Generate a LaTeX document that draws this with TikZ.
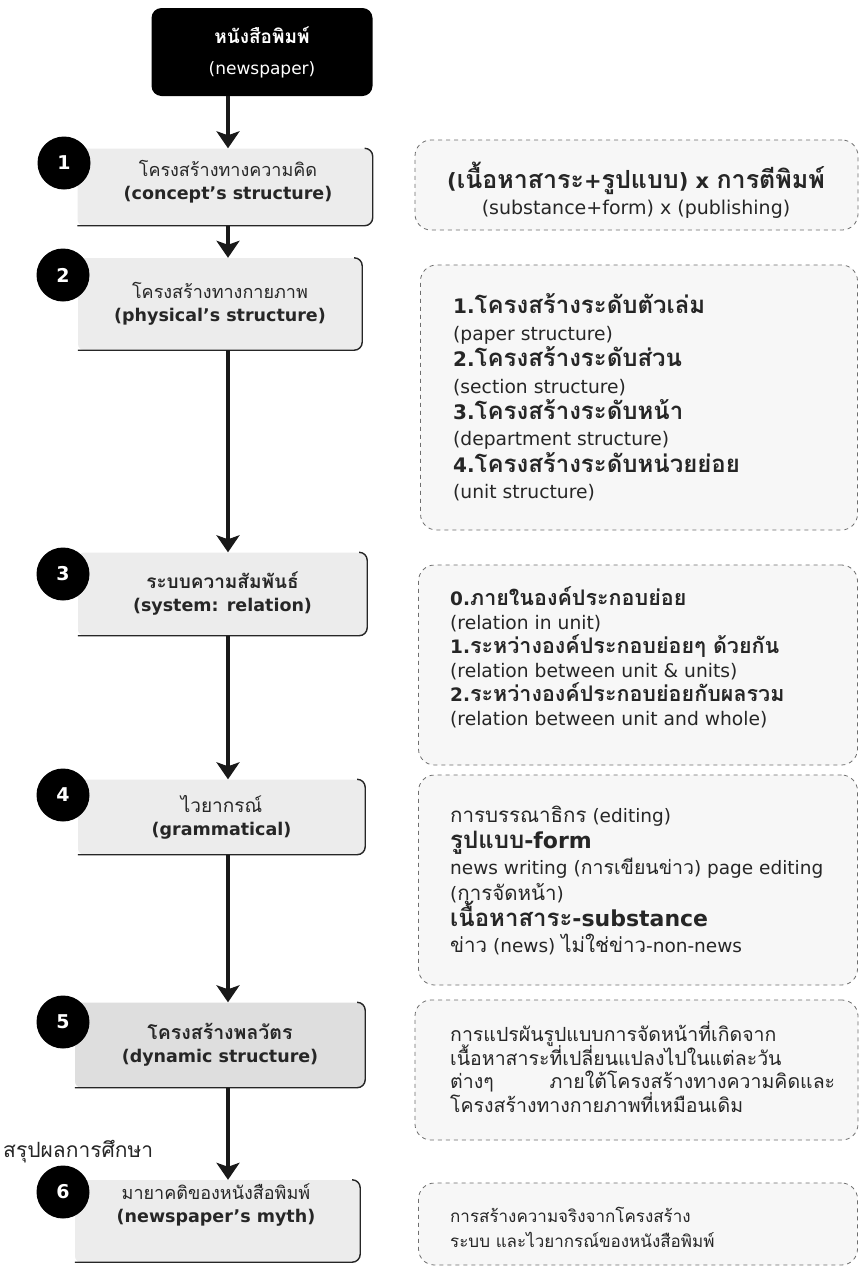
\documentclass[tikz,border=0pt]{standalone}
\usepackage{fontspec}
\setmainfont{DejaVu Sans}
\newfontfamily\thaifont[Script=Thai]{Loma}
\usetikzlibrary{arrows.meta}
\newcommand{\tf}[1]{{\thaifont #1}}
\newcommand{\fsz}[1]{\fontsize{#1}{\baselineskip}\selectfont}
\newcommand{\base}[2]{\fontsize{#1}{#2}\selectfont\lineskiplimit=-100pt\relax}
\definecolor{boxgray}{RGB}{236,236,236}
\definecolor{boxgrayd}{RGB}{222,222,222}
\definecolor{dashgray}{RGB}{110,110,110}
\tikzset{
  mbox/.style={fill=boxgray, rounded corners=6pt, inner sep=0pt, align=center, font=\base{17.5}{23}, text=black!85},
  bracket/.style={draw=black!85, line width=1.4pt, rounded corners=8pt},
  numc/.style={circle, fill=black, minimum size=53pt, inner sep=0pt, text=white, font=\bfseries\fontsize{19}{19}\selectfont},
  dbox/.style={draw=dashgray, dash pattern=on 4pt off 4pt, line width=0.8pt, rounded corners=16pt, fill=white!97!black, inner sep=0pt},
  dtext/.style={anchor=west, align=left, inner sep=0pt, text=black!85},
  arr/.style={line width=3.6pt, -{Stealth[length=17pt,width=23pt,inset=4pt]}, black!90},
}
\begin{document}
\begin{tikzpicture}[x=1pt,y=-1pt]
\useasboundingbox (0,0) rectangle (860,1267);
\fill[white] (0,0) rectangle (860,1267);
\coordinate (spine) at (228,0);

% top box
\node[fill=black, rounded corners=10pt, minimum width=221pt, minimum height=88pt, text=white, align=center, font=\base{17}{31}]
  (top) at (262,52) {\textbf{\tf{\fsz{19}หนังสือพิมพ์}}\\(newspaper)};

% main boxes
\node[mbox, minimum width=295pt, minimum height=77pt] (b1) at (225,187) {};
\node[mbox, fill=none, rounded corners=0pt] (b1t) at (228,182)
  {\tf{\fsz{18}โครงสร้างทางความคิด}\\\textbf{(concept’s structure)}};
\node[mbox, minimum width=284pt, minimum height=92pt] (b2) at (220,304)
  {\tf{\fsz{18}โครงสร้างทางกายภาพ}\\\textbf{(physical’s structure)}};
\node[mbox, minimum width=289pt, minimum height=83pt] (b3) at (222.5,594)
  {\textbf{\tf{\fsz{19}ระบบความสัมพันธ์}}\\\textbf{(system: relation)}};
\node[mbox, minimum width=287pt, minimum height=75pt] (b4) at (221.5,817)
  {\tf{\fsz{19}ไวยากรณ์}\\\textbf{(grammatical)}};
\node[mbox, fill=boxgrayd, minimum width=290pt, minimum height=85pt] (b5) at (220,1045)
  {\textbf{\tf{\fsz{19.5}โครงสร้างพลวัตร}}\\\textbf{(dynamic structure)}};
\node[mbox, minimum width=285pt, minimum height=82pt] (b6) at (217.5,1221) {};
\node[mbox, fill=none, rounded corners=0pt] (b6t) at (216,1205)
  {\tf{\fsz{18}มายาคติของหนังสือพิมพ์}\\\textbf{(newspaper’s myth)}};

\foreach \b in {b1,b2,b3,b4,b5,b6}{
  \draw[bracket] ([xshift=-7pt]\b.north east) -- (\b.north east) -- (\b.south east) -- (\b.south west);
}

% circles
\node[numc] (c1) at (64,163) {1};
\node[numc] (c2) at (63,275) {2};
\node[numc] (c3) at (63,574) {3};
\node[numc] (c4) at (63,795) {4};
\node[numc] (c5) at (63,1022) {5};
\node[numc] (c6) at (63,1192) {6};

% arrows
\draw[arr] (top.south -| spine) -- (b1.north -| spine);
\draw[arr] (b1.south -| spine) -- (b2.north -| spine);
\draw[arr] (b2.south -| spine) -- (b3.north -| spine);
\draw[arr] (b3.south -| spine) -- (b4.north -| spine);
\draw[arr] (b4.south -| spine) -- (b5.north -| spine);
\draw[arr] (b5.south -| spine) -- (b6.north -| spine);

\node[anchor=west, inner sep=0pt, font=\fontsize{21}{21}\selectfont, text=black!85] (concl) at (3,1152) {\tf{สรุปผลการศึกษา}};

% dashed boxes
\node[dbox, minimum width=443pt, minimum height=90pt] (dA) at (636.5,185) {};
\node[align=center, inner sep=0pt, text=black!85, font=\base{19}{26}] (tA) at (636,190)
  {\textbf{\fsz{21}(\tf{\fsz{25}เนื้อหาสาระ}+\tf{\fsz{25}รูปแบบ}) x \tf{\fsz{25}การตีพิมพ์}}\\(substance+form) x (publishing)};

\node[dbox, minimum width=437pt, minimum height=265pt] (dB) at (639,397.5) {};
\node[dtext, font=\base{18.7}{26.4}] (tB) at (453,397.5) {%
\textbf{\fsz{20}1.\tf{\fsz{24}โครงสร้างระดับตัวเล่ม}}\\
(paper structure)\\
\textbf{\fsz{20}2.\tf{\fsz{24}โครงสร้างระดับส่วน}}\\
(section structure)\\
\textbf{\fsz{20}3.\tf{\fsz{24}โครงสร้างระดับหน้า}}\\
(department structure)\\
\textbf{\fsz{20}4.\tf{\fsz{24}โครงสร้างระดับหน่วยย่อย}}\\
(unit structure)};

\node[dbox, minimum width=439pt, minimum height=200pt] (dC) at (638,665) {};
\node[dtext, font=\base{18.7}{24}] (tC) at (450,657) {%
\textbf{\fsz{18.5}0.\tf{\fsz{21.5}ภายในองค์ประกอบย่อย}}\\
(relation in unit)\\
\textbf{\fsz{18.5}1.\tf{\fsz{21.5}ระหว่างองค์ประกอบย่อยๆ ด้วยกัน}}\\
(relation between unit \& units)\\
\textbf{\fsz{18.5}2.\tf{\fsz{21.5}ระหว่างองค์ประกอบย่อยกับผลรวม}}\\
(relation between unit and whole)};

\node[dbox, minimum width=439pt, minimum height=210pt] (dD) at (638,880) {};
\node[dtext, font=\base{18.5}{26}] (tD) at (450,880) {%
\tf{\fsz{20.5}การบรรณาธิกร} (editing)\\
\textbf{\fsz{22}\tf{\fsz{24}รูปแบบ}-form}\\
news writing (\tf{\fsz{19.5}การเขียนข่าว}) page editing\\
(\tf{\fsz{20.5}การจัดหน้า})\\
\textbf{\fsz{22}\tf{\fsz{24}เนื้อหาสาระ}-substance}\\
\tf{\fsz{20.5}ข่าว} (news) \tf{\fsz{20.5}ไม่ใช่ข่าว}-non-news};

\node[dbox, minimum width=443pt, minimum height=140pt] (dE) at (636.5,1070) {};
\node[dtext, font=\thaifont\base{19.5}{23.5}] (tE) at (450,1067) {%
การแปรผันรูปแบบการจัดหน้าที่เกิดจาก\\
เนื้อหาสาระที่เปลี่ยนแปลงไปในแต่ละวัน\\
\hbox to 385pt{ต่างๆ\hfill ภายใต้โครงสร้างทางความคิดและ}\\
โครงสร้างทางกายภาพที่เหมือนเดิม};

\node[dbox, minimum width=439pt, minimum height=82pt] (dF) at (638,1224) {};
\node[dtext, font=\thaifont\base{17}{25}] (tF) at (450,1227.5) {%
การสร้างความจริงจากโครงสร้าง\\
ระบบ และไวยากรณ์ของหนังสือพิมพ์};
\end{tikzpicture}
\end{document}
